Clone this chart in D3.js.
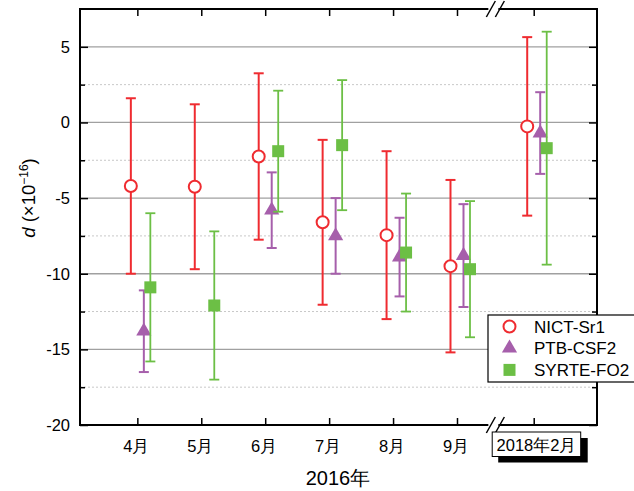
<!DOCTYPE html>
<html>
<head>
<meta charset="utf-8">
<script src="https://cdn.jsdelivr.net/npm/d3@7"></script>
<style>
  html, body { margin: 0; padding: 0; background: #fff; }
  svg { display: block; font-family: "Liberation Sans", Arial, sans-serif; }
</style>
</head>
<body>
<svg id="chart" width="634" height="491"></svg>
<script>
// Monthly comparison of frequency deviations d (×10^-16)
const categories = ["4月", "5月", "6月", "7月", "8月", "9月", "2018年2月"];
const seriesNames = ["NICT-Sr1", "PTB-CSF2", "SYRTE-FO2"];

const nictValue  = [-4.2, -4.25, -2.25, -6.6, -7.45, -9.5, -0.26];
const nictError  = [5.8, 5.45, 5.5, 5.45, 5.55, 5.7, 5.9];
const ptbValue   = [-13.8, null, -5.8, -7.5, -8.9, -8.8, -0.7];
const ptbError   = [2.7, null, 2.5, 2.5, 2.6, 3.4, 2.7];
const syrteValue = [-10.9, -12.1, -1.9, -1.5, -8.6, -9.7, -1.7];
const syrteError = [4.9, 4.9, 4.0, 4.3, 3.9, 4.5, 7.7];

const yMajorTicks = [-20, -15, -10, -5, 0, 5];
const yMinorTicks = [-17.5, -12.5, -7.5, -2.5, 2.5];

const svg = d3.select("#chart");
const plot = { left: 80, right: 597, top: 9, bottom: 425 };
const FONT = "Liberation Sans, Arial, sans-serif";

// Category positions; the last one sits after an axis break
const breakGap = 0.2;
const catPos = categories.map((c, i) => i + (i === categories.length - 1 ? breakGap : 0));

const x = d3.scaleLinear().domain([-0.897, 7.19]).range([plot.left, plot.right]);
const y = d3.scaleLinear().domain([-20, 7.5]).range([plot.bottom, plot.top]);

const series = [
  { name: seriesNames[0], values: nictValue,  errors: nictError,  color: "#ef2b30", dx: -6.5, shape: "circle",   width: 2 },
  { name: seriesNames[1], values: ptbValue,   errors: ptbError,   color: "#a65fab", dx: 6.5,  shape: "triangle", width: 2 },
  { name: seriesNames[2], values: syrteValue, errors: syrteError, color: "#6cbf45", dx: 13,   shape: "square",   width: 1.8 }
];

// Grid lines
const grid = svg.append("g");
grid.selectAll("line.major").data(yMajorTicks.filter(v => v > -20)).join("line")
  .attr("x1", plot.left).attr("x2", plot.right)
  .attr("y1", d => y(d)).attr("y2", d => y(d))
  .attr("stroke", "#a0a0a0").attr("stroke-width", 1.3);
grid.selectAll("line.minor").data(yMinorTicks).join("line")
  .attr("x1", plot.left).attr("x2", plot.right)
  .attr("y1", d => y(d)).attr("y2", d => y(d))
  .attr("stroke", "#c8c8c8").attr("stroke-width", 1).attr("stroke-dasharray", "2,2");

// Axes (ticks pointing inward on all four sides)
svg.append("g").attr("transform", `translate(0,${plot.bottom})`)
  .call(d3.axisBottom(x).tickValues(catPos).tickSize(-7).tickFormat(""))
  .call(g => g.select(".domain").remove());
svg.append("g").attr("transform", `translate(0,${plot.top})`)
  .call(d3.axisTop(x).tickValues(catPos).tickSize(-7).tickFormat(""))
  .call(g => g.select(".domain").remove());
svg.append("g").attr("transform", `translate(${plot.left},0)`)
  .call(d3.axisLeft(y).tickValues(yMajorTicks).tickSize(-8).tickPadding(10).tickFormat(d => String(d)))
  .call(g => g.select(".domain").remove())
  .call(g => g.selectAll("text").attr("font-size", 16.5).attr("fill", "#000").attr("font-family", FONT));
svg.append("g").attr("transform", `translate(${plot.left},0)`)
  .call(d3.axisLeft(y).tickValues(yMinorTicks).tickSize(-5).tickFormat(""))
  .call(g => g.select(".domain").remove());
svg.append("g").attr("transform", `translate(${plot.right},0)`)
  .call(d3.axisRight(y).tickValues(yMajorTicks).tickSize(-8).tickFormat(""))
  .call(g => g.select(".domain").remove());
svg.append("g").attr("transform", `translate(${plot.right},0)`)
  .call(d3.axisRight(y).tickValues(yMinorTicks).tickSize(-5).tickFormat(""))
  .call(g => g.select(".domain").remove());
svg.selectAll(".tick line").attr("stroke", "#000").attr("stroke-width", 1.5);

// Frame
svg.append("rect")
  .attr("x", plot.left).attr("y", plot.top)
  .attr("width", plot.right - plot.left).attr("height", plot.bottom - plot.top)
  .attr("fill", "none").attr("stroke", "#000").attr("stroke-width", 2);

// Axis break marks
const breakX = (x(catPos[5]) + x(catPos[6])) / 2;
[plot.top, plot.bottom].forEach(yy => {
  svg.append("line").attr("x1", breakX - 7).attr("x2", breakX + 3)
    .attr("y1", yy).attr("y2", yy).attr("stroke", "#fff").attr("stroke-width", 3);
  [-4.5, 4.5].forEach(off => {
    svg.append("line")
      .attr("x1", breakX + off - 4.5).attr("y1", yy + 8)
      .attr("x2", breakX + off + 4.5).attr("y2", yy - 8)
      .attr("stroke", "#000").attr("stroke-width", 1.5);
  });
});

// X category labels
categories.slice(0, -1).forEach((c, i) => {
  svg.append("text").attr("x", x(catPos[i]) - 1).attr("y", 452)
    .attr("text-anchor", "middle").attr("font-size", 16.5).text(c);
});
// Boxed label after the break, with a drop shadow
const lastX = x(catPos[6]);
svg.append("rect").attr("x", lastX - 35.5).attr("y", 438).attr("width", 89.5).attr("height", 24.5).attr("fill", "#000");
svg.append("rect").attr("x", lastX - 41.5).attr("y", 432).attr("width", 88.5).attr("height", 24.5)
  .attr("fill", "#fff").attr("stroke", "#000").attr("stroke-width", 1);
svg.append("text").attr("x", lastX + 2.8).attr("y", 450.5)
  .attr("text-anchor", "middle").attr("font-size", 16.5).text(categories[6]);

// X axis title
svg.append("text").attr("x", 338).attr("y", 485)
  .attr("text-anchor", "middle").attr("font-size", 20).text("2016年");

// Y axis title
const yTitle = svg.append("text")
  .attr("transform", "translate(35,198) rotate(-90)")
  .attr("text-anchor", "middle").attr("font-size", 18.5);
yTitle.append("tspan").attr("font-style", "italic").text("d");
yTitle.append("tspan").text(" (×10");
yTitle.append("tspan").attr("font-size", 12).attr("dy", -7.5).text("−16");
yTitle.append("tspan").attr("dy", 7.5).text(")");

// Error bars and markers
const triangle = d3.symbol().type(d3.symbolTriangle).size(100);
series.forEach(s => {
  const pts = s.values.map((v, i) => ({ v, e: s.errors[i], i })).filter(d => d.v !== null);
  const g = svg.append("g");
  pts.forEach(d => {
    const cx = x(catPos[d.i]) + s.dx;
    const y1 = y(d.v + d.e), y2 = y(d.v - d.e);
    g.append("line").attr("x1", cx).attr("x2", cx).attr("y1", y1).attr("y2", y2)
      .attr("stroke", s.color).attr("stroke-width", s.width);
    [y1, y2].forEach(yy => g.append("line")
      .attr("x1", cx - 5).attr("x2", cx + 5).attr("y1", yy).attr("y2", yy)
      .attr("stroke", s.color).attr("stroke-width", s.width));
    drawMarker(g, s, cx, y(d.v));
  });
});

function drawMarker(g, s, cx, cy) {
  if (s.shape === "circle") {
    g.append("circle").attr("cx", cx).attr("cy", cy).attr("r", 6)
      .attr("fill", "#fff").attr("stroke", s.color).attr("stroke-width", 2);
  } else if (s.shape === "triangle") {
    g.append("path").attr("d", triangle).attr("transform", `translate(${cx},${cy})`)
      .attr("fill", s.color);
  } else {
    g.append("rect").attr("x", cx - 6).attr("y", cy - 6).attr("width", 12).attr("height", 12)
      .attr("fill", s.color);
  }
}

// Legend
const legend = svg.append("g");
legend.append("rect").attr("x", 488).attr("y", 315).attr("width", 150).attr("height", 67)
  .attr("fill", "#fff").attr("stroke", "#000").attr("stroke-width", 1.2);
series.forEach((s, i) => {
  const ly = 326.5 + i * 21.7;
  drawMarker(legend, s, 509.5, ly);
  legend.append("text").attr("x", 534).attr("y", ly + 6).attr("font-size", 17).text(s.name);
});
</script>
</body>
</html>
